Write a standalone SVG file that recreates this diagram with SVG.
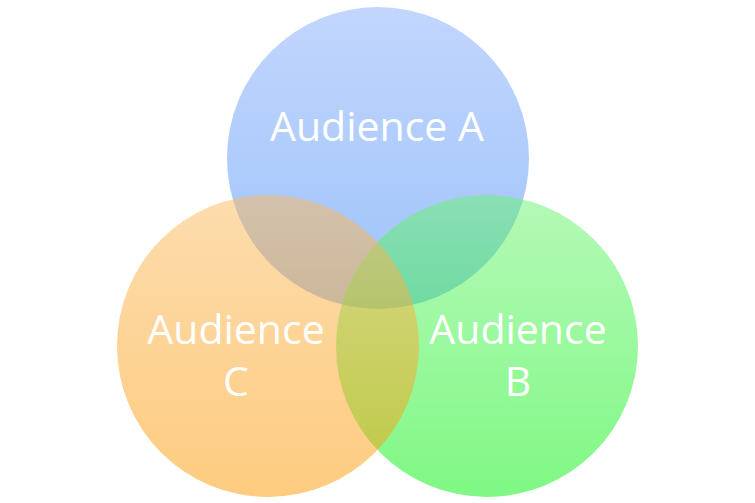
<svg xmlns="http://www.w3.org/2000/svg" width="755" height="503" viewBox="0 0 755 503">
<defs>
<linearGradient id="gA" x1="0" y1="0" x2="0" y2="1"><stop offset="0" stop-color="#86adfb"/><stop offset="1" stop-color="#3b87f5"/></linearGradient>
<linearGradient id="gB" x1="0" y1="0" x2="0" y2="1"><stop offset="0" stop-color="#6bf36f"/><stop offset="1" stop-color="#00f10a"/></linearGradient>
<linearGradient id="gC" x1="0" y1="0" x2="0" y2="1"><stop offset="0" stop-color="#fbb95d"/><stop offset="1" stop-color="#fb9900"/></linearGradient>
<style>
.c{fill-opacity:0.5}
.t{font-family:"Open Sans","Noto Sans",sans-serif;font-size:41px;fill:#ffffff;text-anchor:middle}
</style>
</defs>
<rect width="755" height="503" fill="#ffffff"/>
<g id="nodeA"><circle class="c" cx="378" cy="158" r="151" fill="url(#gA)"/></g>
<g id="nodeB"><circle class="c" cx="487" cy="346" r="151" fill="url(#gB)"/></g>
<g id="nodeC"><circle class="c" cx="268" cy="346" r="151" fill="url(#gC)"/></g>
<g id="labels">
<text class="t" x="377" y="141">Audience A</text>
<text class="t" x="236" y="344">Audience</text>
<text class="t" x="236" y="396">C</text>
<text class="t" x="518" y="344">Audience</text>
<text class="t" x="518" y="396">B</text>
</g>
<g id="connectors"/>
</svg>
